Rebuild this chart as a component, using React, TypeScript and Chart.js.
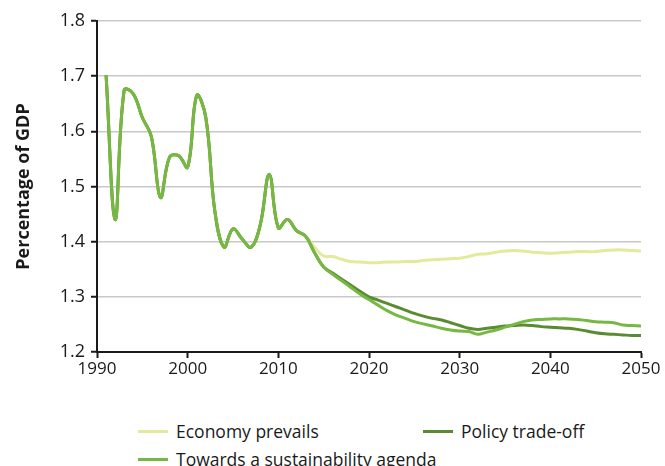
import React, { useEffect, useRef } from "react";
import { Chart, registerables } from "chart.js";

Chart.register(...registerables);

const historyYears = [1991, 1992, 1993, 1994, 1995, 1996, 1997, 1998, 1999, 2000, 2001, 2002, 2003, 2004, 2005, 2006, 2007, 2008, 2009, 2010, 2011, 2012, 2013];
const historyValues = [1.702, 1.44, 1.675, 1.668, 1.625, 1.59, 1.48, 1.553, 1.556, 1.535, 1.665, 1.625, 1.455, 1.39, 1.423, 1.405, 1.39, 1.43, 1.522, 1.425, 1.44, 1.42, 1.41];

const projectionYears = [2014, 2015, 2016, 2017, 2018, 2019, 2020, 2021, 2022, 2023, 2024, 2025, 2026, 2027, 2028, 2029, 2030, 2031, 2032, 2033, 2034, 2035, 2036, 2037, 2038, 2039, 2040, 2041, 2042, 2043, 2044, 2045, 2046, 2047, 2048, 2049, 2050];
const economyPrevails = [1.39, 1.374, 1.373, 1.368, 1.364, 1.363, 1.362, 1.362, 1.363, 1.363, 1.364, 1.364, 1.366, 1.367, 1.368, 1.369, 1.37, 1.373, 1.377, 1.378, 1.381, 1.383, 1.384, 1.383, 1.381, 1.38, 1.379, 1.38, 1.381, 1.382, 1.382, 1.382, 1.384, 1.385, 1.385, 1.384, 1.383];
const policyTradeOff = [1.38, 1.354, 1.343, 1.332, 1.321, 1.31, 1.3, 1.294, 1.288, 1.282, 1.276, 1.27, 1.265, 1.261, 1.258, 1.253, 1.248, 1.243, 1.241, 1.243, 1.245, 1.247, 1.248, 1.249, 1.248, 1.246, 1.245, 1.244, 1.243, 1.241, 1.238, 1.235, 1.233, 1.232, 1.231, 1.23, 1.23];
const sustainabilityAgenda = [1.38, 1.354, 1.341, 1.329, 1.317, 1.305, 1.295, 1.285, 1.275, 1.267, 1.261, 1.255, 1.251, 1.247, 1.243, 1.24, 1.238, 1.237, 1.232, 1.236, 1.24, 1.245, 1.25, 1.255, 1.258, 1.259, 1.26, 1.26, 1.26, 1.259, 1.257, 1.255, 1.254, 1.253, 1.249, 1.248, 1.247];

const seriesNames = ["Economy prevails", "Policy trade-off", "Towards a sustainability agenda"];
const seriesColors = ["#e4ea9c", "#5a8a32", "#76b843"];

const xMin = 1990;
const xMax = 2050;
const xStep = 10;
const yMin = 1.2;
const yMax = 1.8;
const yStep = 0.1;
const yTitle = "Percentage of GDP";

const FONT = "'Open Sans', 'Noto Sans', sans-serif";
const TEXT = "#1a1a1a";

function buildPoints(projection: number[]) {
  const years = historyYears.concat(projectionYears);
  const values = historyValues.concat(projection);
  return years.map((x, i) => ({ x, y: values[i] }));
}

export default function App() {
  const canvasRef = useRef<HTMLCanvasElement | null>(null);

  useEffect(() => {
    if (!canvasRef.current) return;
    const projections = [economyPrevails, policyTradeOff, sustainabilityAgenda];
    const orders = [3, 2, 1];
    const chart = new Chart(canvasRef.current, {
      type: "line",
      data: {
        datasets: projections.map((p, i) => ({
          label: seriesNames[i],
          data: buildPoints(p),
          borderColor: seriesColors[i],
          backgroundColor: seriesColors[i],
          borderWidth: 3,
          pointRadius: 0,
          tension: 0.4,
          fill: false,
          order: orders[i],
        })),
      },
      options: {
        animation: false,
        responsive: false,
        maintainAspectRatio: false,
        layout: { padding: { top: 21, right: 24, left: 0, bottom: 0 } },
        plugins: {
          legend: { display: false },
          tooltip: { enabled: false },
        },
        scales: {
          x: {
            type: "linear",
            min: xMin,
            max: xMax,
            afterFit: (s: any) => {
              s.height = 38;
            },
            ticks: {
              stepSize: xStep,
              color: TEXT,
              font: { family: FONT, size: 17 },
              padding: 1,
              maxRotation: 0,
              callback: (v: any) => String(v),
            },
            grid: {
              drawOnChartArea: false,
              drawTicks: true,
              tickLength: 6,
              tickColor: "#1a1a1a",
              tickWidth: 2,
            },
            border: { display: true, color: "#1a1a1a", width: 2 },
          },
          y: {
            type: "linear",
            min: yMin,
            max: yMax,
            afterFit: (s: any) => {
              s.width = 97;
            },
            ticks: {
              stepSize: yStep,
              color: TEXT,
              font: { family: FONT, size: 18 },
              padding: 6,
              callback: (v: any) => Number(v).toFixed(1),
            },
            grid: {
              color: "#c8c8c8",
              lineWidth: 1.5,
              drawTicks: true,
              tickLength: 6,
              tickColor: "#1a1a1a",
              tickWidth: 2,
            },
            border: { display: true, color: "#1a1a1a", width: 2 },
            title: {
              display: true,
              text: yTitle,
              color: TEXT,
              font: { family: FONT, size: 18, weight: "bold" },
              padding: { top: 13, bottom: 4 },
            },
          },
        },
      },
    });
    return () => chart.destroy();
  }, []);

  const legendRow = (i: number, left: number, top: number) => (
    <div
      key={i}
      style={{
        position: "absolute",
        left,
        top,
        display: "flex",
        alignItems: "center",
        fontFamily: FONT,
        fontSize: 17.5,
        color: TEXT,
        whiteSpace: "nowrap",
        lineHeight: "22px",
      }}
    >
      <span style={{ display: "inline-block", width: 30, height: 3, background: seriesColors[i], marginRight: 8 }} />
      <span>{seriesNames[i]}</span>
    </div>
  );

  return (
    <div style={{ position: "absolute", left: 0, top: 0, width: 665, height: 466, background: "#fff", overflow: "hidden" }}>
      <canvas ref={canvasRef} width={665} height={390} style={{ display: "block", width: 665, height: 390 }} />
      {legendRow(0, 138, 420)}
      {legendRow(1, 423, 420)}
      {legendRow(2, 138, 448)}
    </div>
  );
}
